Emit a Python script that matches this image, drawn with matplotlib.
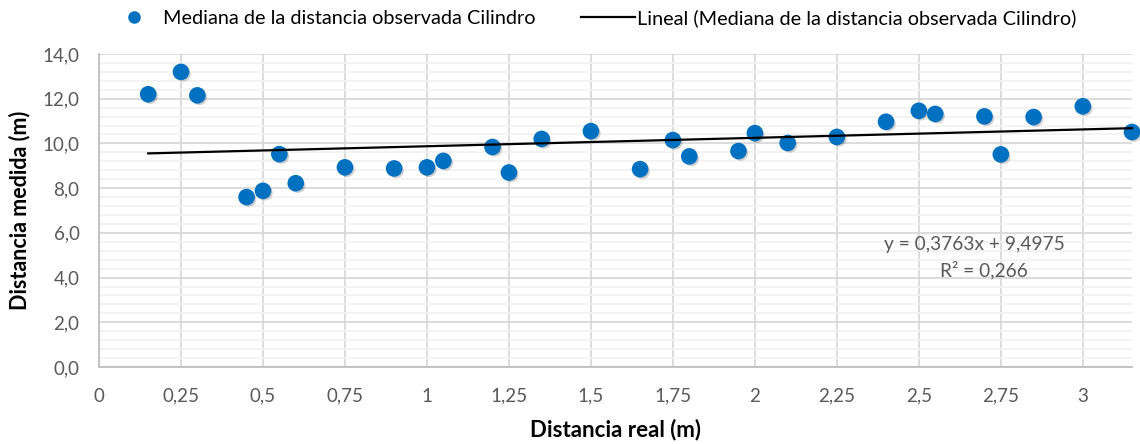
import numpy as np
import matplotlib
matplotlib.use("Agg")
import matplotlib.pyplot as plt
from matplotlib.ticker import MultipleLocator, FuncFormatter
from matplotlib.lines import Line2D
import matplotlib.patheffects as pe

plt.rcParams['font.family'] = ['Lato', 'DejaVu Sans']

# Distancia real (m) y mediana de la distancia observada (m)
distancia_real = [0.15, 0.25, 0.30, 0.45, 0.50, 0.55, 0.60, 0.75, 0.90, 1.00,
                  1.05, 1.20, 1.25, 1.35, 1.50, 1.65, 1.75, 1.80, 1.95, 2.00,
                  2.10, 2.25, 2.40, 2.50, 2.55, 2.70, 2.75, 2.85, 3.00, 3.15]
distancia_medida = [12.2, 13.2, 12.15, 7.6, 7.88, 9.52, 8.22, 8.93, 8.88, 8.93,
                    9.22, 9.84, 8.70, 10.2, 10.55, 8.85, 10.15, 9.42, 9.66, 10.46,
                    10.02, 10.29, 10.97, 11.46, 11.32, 11.21, 9.51, 11.18, 11.66, 10.51]

# Ajuste lineal
pendiente = 0.3763
ordenada = 9.4975
r2 = 0.266

serie_label = "Mediana de la distancia observada Cilindro"
tendencia_label = "Lineal (Mediana de la distancia observada Cilindro)"

azul = "#0070C0"
gris_texto = "#595959"

fig = plt.figure(figsize=(11.4, 4.44), dpi=100)
ax = fig.add_axes([99 / 1140, 1 - 367 / 444, (1132 - 99) / 1140, (367 - 54) / 444])

ax.set_xlim(0, 3.15)
ax.set_ylim(0, 14)

# Rejilla
ax.xaxis.set_major_locator(MultipleLocator(0.25))
ax.yaxis.set_major_locator(MultipleLocator(2))
ax.yaxis.set_minor_locator(MultipleLocator(0.4))
ax.grid(which='major', axis='both', color='#D9D9D9', linewidth=1.3, zorder=0)
ax.grid(which='minor', axis='y', color='#F2F2F2', linewidth=1.3, zorder=0)
ax.set_axisbelow(True)

for s in ['top', 'right']:
    ax.spines[s].set_visible(False)
for s in ['left', 'bottom']:
    ax.spines[s].set_color('#BFBFBF')
    ax.spines[s].set_linewidth(1.3)

def fmt_x(v, pos):
    s = f"{v:.2f}".rstrip('0').rstrip('.')
    return s.replace('.', ',')

def fmt_y(v, pos):
    return f"{v:.1f}".replace('.', ',')

ax.xaxis.set_major_formatter(FuncFormatter(fmt_x))
ax.yaxis.set_major_formatter(FuncFormatter(fmt_y))
ax.tick_params(axis='both', which='both', length=0, labelsize=13.5, labelcolor=gris_texto)
ax.tick_params(axis='x', pad=15)
ax.tick_params(axis='y', pad=14)

ax.set_xlabel("Distancia real (m)", fontsize=16, fontweight='bold', labelpad=10)
ax.set_ylabel("Distancia medida (m)", fontsize=15.5, fontweight='bold', labelpad=9)

# Puntos con sombra
ax.scatter(distancia_real, distancia_medida, s=120, color=azul, zorder=3, clip_on=False,
           path_effects=[pe.SimplePatchShadow(offset=(1.5, -1.5), alpha=0.25, shadow_rgbFace='#404040'),
                         pe.Normal()])

# Línea de tendencia
xt = np.array([min(distancia_real), max(distancia_real)])
ax.plot(xt, pendiente * xt + ordenada, color='black', linewidth=1.6, zorder=4, clip_on=False)

eq = f"y = {pendiente:.4f}x + {ordenada:.4f}".replace('.', ',')
r2t = f"R² = {r2:.3f}".replace('.', ',')
ax.text(2.67, 5.5, eq, ha='center', va='center', fontsize=13.8, color=gris_texto)
ax.text(2.70, 4.32, r2t, ha='center', va='center', fontsize=13.8, color=gris_texto)

handles = [
    Line2D([], [], linestyle='none', marker='o', markersize=8, color=azul),
    Line2D([], [], color='black', linewidth=1.6),
]
fig.legend(handles, [serie_label, tendencia_label], loc='center',
           bbox_to_anchor=(592 / 1140, 1 - 18 / 444), ncol=2, frameon=False,
           fontsize=14.3, handlelength=2.7, handletextpad=0.1, columnspacing=2.3)

fig.savefig("out.png", dpi=100)
